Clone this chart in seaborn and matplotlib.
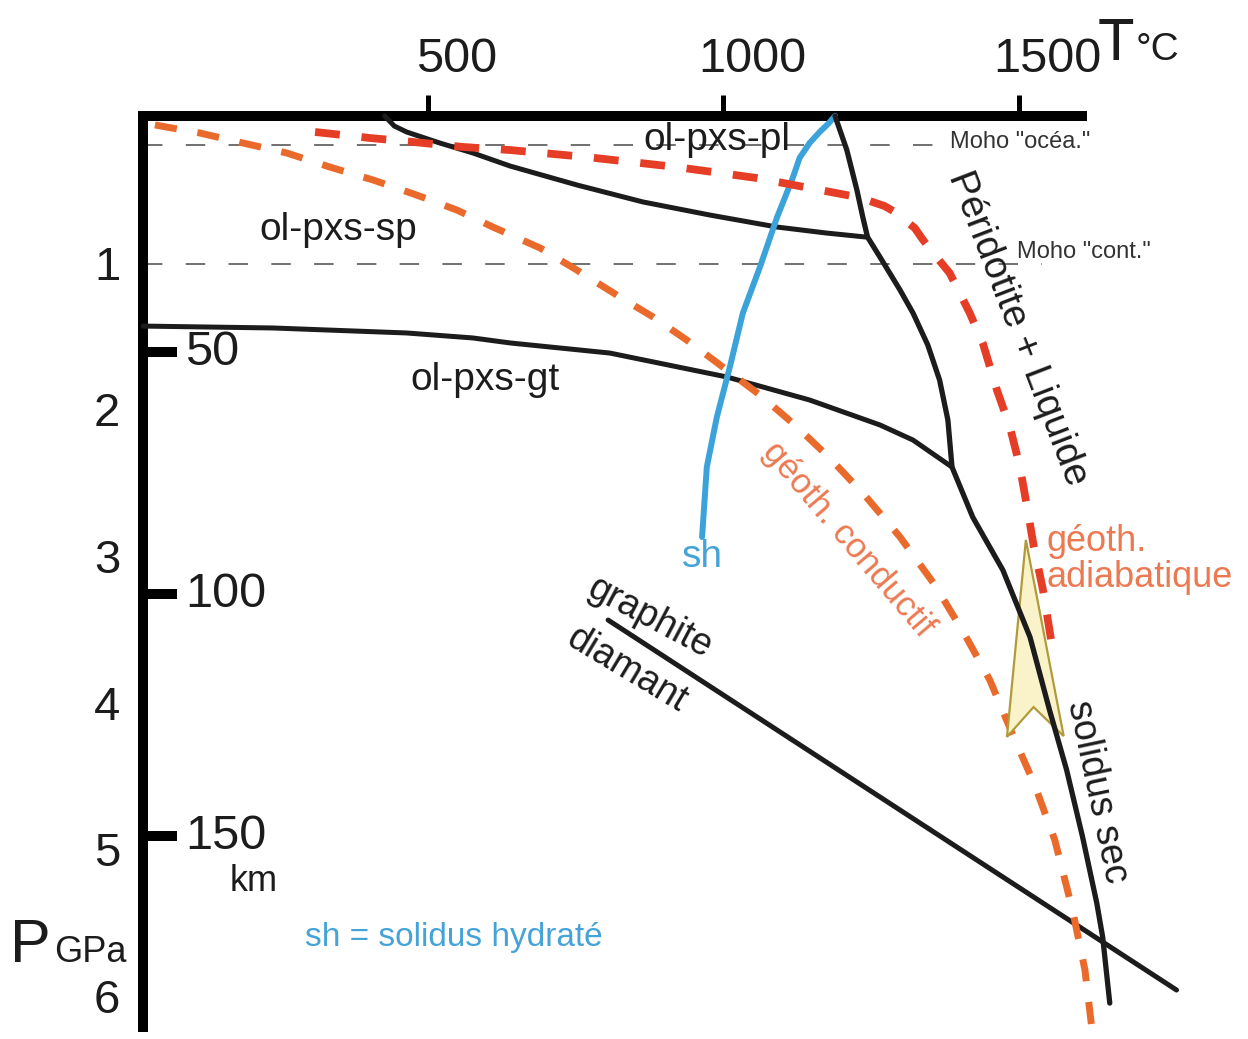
#!/usr/bin/env python3
"""
Mantle peridotite P-T diagram: solidus, geotherms and mineral assemblages.
"""

import matplotlib
matplotlib.use("Agg")
import matplotlib.pyplot as plt
import seaborn as sns
from matplotlib.transforms import ScaledTranslation

# --- data (T in degC, P in GPa) ---
temp_ticks = [500, 1000, 1500]
press_ticks = [1, 2, 3, 4, 5, 6]
depth_km = [50, 100, 150]
depth_P = [1.61, 3.26, 4.91]

moho_ocean_P, moho_ocean_Tend = 0.20, 1354
moho_cont_P, moho_cont_Tend = 1.01, 1540

pl_sp_T = [427, 443, 464, 520, 576, 639, 752, 864, 977, 1091, 1175, 1241]
pl_sp_P = [0.0, 0.068, 0.109, 0.184, 0.252, 0.341, 0.470, 0.586, 0.675, 0.757, 0.798, 0.825]

sp_gt_T = [18, 238, 464, 576, 639, 808, 1006, 1146, 1265, 1321, 1387]
sp_gt_P = [1.432, 1.445, 1.479, 1.513, 1.547, 1.616, 1.779, 1.936, 2.106, 2.209, 2.393]

solidus_T = [1189, 1209, 1226, 1236, 1244, 1265, 1299, 1321, 1346, 1366, 1380, 1387,
             1422, 1473, 1519, 1552, 1581, 1608, 1632, 1642, 1654]
solidus_P = [0.0, 0.232, 0.504, 0.689, 0.825, 0.961, 1.186, 1.343, 1.561, 1.800, 2.072, 2.393,
             2.734, 3.095, 3.552, 4.049, 4.458, 4.915, 5.365, 5.597, 6.047]

sh_T = [1189, 1177, 1163, 1146, 1129, 1118, 1091, 1062, 1033, 1011, 989, 972, 964]
sh_P = [0.0, 0.055, 0.109, 0.184, 0.286, 0.416, 0.689, 1.029, 1.343, 1.711, 2.052, 2.393, 2.870]

cond_T = [38, 114, 187, 261, 334, 407, 481, 549, 610, 690, 752, 825, 881, 938, 999, 1062,
          1121, 1180, 1239, 1299, 1358, 1409, 1451, 1490, 1527, 1561, 1591, 1612, 1625]
cond_P = [0.061, 0.116, 0.184, 0.252, 0.348, 0.436, 0.539, 0.641, 0.757, 0.900, 1.050, 1.234,
          1.370, 1.527, 1.711, 1.902, 2.106, 2.331, 2.584, 2.870, 3.197, 3.538, 3.845, 4.220,
          4.561, 4.936, 5.413, 5.822, 6.265]

adiab_T = [309, 402, 475, 559, 639, 769, 921, 1057, 1146, 1226, 1248, 1273, 1290, 1307, 1324,
           1338, 1358, 1383, 1417, 1439, 1463, 1485, 1502, 1514, 1525, 1541, 1558]
adiab_P = [0.109, 0.150, 0.177, 0.211, 0.232, 0.280, 0.348, 0.423, 0.491, 0.552, 0.580, 0.614,
           0.654, 0.709, 0.764, 0.845, 0.948, 1.070, 1.343, 1.547, 1.868, 2.120, 2.393, 2.665,
           2.924, 3.231, 3.654]

graph_T = [805, 1767]
graph_P = [3.436, 5.958]

arrow_T = [1512, 1576, 1525, 1480]
arrow_P = [2.890, 4.227, 4.029, 4.233]

INK = "#1c1c1c"
RED = "#e63e26"
ORANGE = "#ea6a2c"
ORANGE_TXT = "#eb7a52"
BLUE = "#3ca3da"
BLUE_TXT = "#45a3d8"


def curve(ax, T, P, **kw):
    sns.lineplot(x=T, y=P, sort=False, estimator=None, ax=ax, clip_on=False, **kw)


def main():
    sns.set_theme(style="white")
    plt.rcParams['font.family'] = ['Liberation Sans', 'DejaVu Sans']

    fig = plt.figure(figsize=(12.48, 10.39), dpi=100)
    ax = fig.add_axes([143 / 1248, 1 - 1027 / 1039, 939 / 1248, 911 / 1039])

    # Moho levels
    ax.hlines(moho_ocean_P, 18, moho_ocean_Tend, colors="#707070", lw=1.4,
              linestyles=[(0, (10, 12))], zorder=1)
    ax.hlines(moho_cont_P, 18, moho_cont_Tend, colors="#707070", lw=1.4,
              linestyles=[(0, (10, 12))], zorder=1)

    # phase boundaries
    curve(ax, pl_sp_T, pl_sp_P, color=INK, lw=3.6, zorder=3)
    curve(ax, sp_gt_T, sp_gt_P, color=INK, lw=3.6, zorder=3)
    curve(ax, graph_T, graph_P, color=INK, lw=3.6, zorder=3)
    curve(ax, sh_T, sh_P, color=BLUE, lw=4.3, zorder=3)

    # geotherms
    curve(ax, cond_T, cond_P, color=ORANGE, lw=5.0, linestyle=(0, (3.2, 3.0)), zorder=5)
    curve(ax, adiab_T, adiab_P, color=RED, lw=5.6, linestyle=(0, (3.2, 2.8)), zorder=5)

    # rising adiabat arrow
    ax.fill(arrow_T, arrow_P, facecolor="#faf3c9", edgecolor="#b09a3a", lw=1.6, zorder=6)

    # dry solidus on top
    curve(ax, solidus_T, solidus_P, color=INK, lw=3.8, zorder=7)

    ax.set_xlim(17.8, 1607)
    ax.set_ylim(6.21, 0)
    ax.set_xlabel("")
    ax.set_ylabel("")

    # frame: only top and left axes, thick
    for side in ["right", "bottom"]:
        ax.spines[side].set_visible(False)
    for side in ["top", "left"]:
        ax.spines[side].set_linewidth(7.2)
        ax.spines[side].set_color("black")
        ax.spines[side].set_capstyle("projecting")

    ax.xaxis.tick_top()
    ax.set_xticks(temp_ticks)
    ax.set_xticklabels([str(t) for t in temp_ticks])
    ax.set_yticks(press_ticks)
    ax.set_yticklabels([str(p) for p in press_ticks])
    ax.tick_params(axis="x", direction="out", length=15, width=3.6, pad=9.4,
                   labelsize=35, colors="black", labelcolor=INK,
                   top=True, bottom=False, labeltop=True, labelbottom=False)
    ax.tick_params(axis="y", direction="out", length=14.4, width=3.6, pad=2,
                   labelsize=34, colors="black", labelcolor=INK)
    shift = ScaledTranslation(0.29, 0, fig.dpi_scale_trans)
    for tick in ax.xaxis.get_major_ticks():
        tick.label2.set_transform(tick.label2.get_transform() + shift)

    # depth scale (km) inside the frame
    ytr = ax.get_yaxis_transform()
    for km, p in zip(depth_km, depth_P):
        ax.plot([0, 0.036], [p, p], transform=ytr, color="black", lw=7.2,
                solid_capstyle="butt", zorder=8)
        ax.text(0.045, p, str(km), transform=ytr, ha="left", va="center",
                fontsize=35, color=INK)
    ax.text(0.143, 5.22, "km", transform=ytr, ha="right", va="center",
            fontsize=26, color=INK)

    # field labels
    ax.text(989, 0.164, "ol-pxs-pl", ha="center", va="center", fontsize=28, color=INK, zorder=9)
    ax.text(348, 0.777, "ol-pxs-sp", ha="center", va="center", fontsize=28, color=INK)
    ax.text(596, 1.80, "ol-pxs-gt", ha="center", va="center", fontsize=28, color=INK)
    ax.text(1383, 0.177, 'Moho "océa."', ha="left", va="center", fontsize=17, color="#333333")
    ax.text(1497, 0.927, 'Moho "cont."', ha="left", va="center", fontsize=17,
            color="#333333", clip_on=False)
    ax.text(1498, 1.445, "Péridotite + Liquide", ha="center", va="center",
            rotation=-69, rotation_mode="anchor", fontsize=28, color=INK)
    ax.text(1211, 2.884, "géoth. conductif", ha="center", va="center",
            rotation=-49.5, rotation_mode="anchor", fontsize=25, color=ORANGE_TXT)
    ax.text(965, 3.006, "sh", ha="center", va="center", fontsize=28, color=BLUE_TXT)
    ax.text(1547, 2.78, "géoth.\nadiabatique", ha="left", va="top", fontsize=26,
            linespacing=1.05, color=ORANGE_TXT, clip_on=False)
    ax.text(876, 3.422, "graphite", ha="center", va="center", rotation=-28,
            rotation_mode="anchor", fontsize=27, color=INK)
    ax.text(837, 3.777, "diamant", ha="center", va="center", rotation=-31,
            rotation_mode="anchor", fontsize=27, color=INK)
    ax.text(1632, 4.608, "solidus sec", ha="center", va="center", rotation=-78,
            rotation_mode="anchor", fontsize=27, color=INK, clip_on=False)
    ax.text(292, 5.597, "sh = solidus hydraté", ha="left", va="center",
            fontsize=24, color=BLUE_TXT)

    # axis titles
    fig.text(10 / 1248, 1 - 962 / 1039, "P", ha="left", va="baseline", fontsize=44, color=INK)
    fig.text(54 / 1248, 1 - 962 / 1039, "GPa", ha="left", va="baseline", fontsize=26, color=INK)
    fig.text(1098 / 1248, 1 - 60 / 1039, "T", ha="left", va="baseline", fontsize=43, color=INK)
    fig.text(1136 / 1248, 1 - 60 / 1039, "°C", ha="left", va="baseline", fontsize=28, color=INK)

    fig.savefig("out.png", dpi=100)
    plt.close(fig)


if __name__ == "__main__":
    main()
